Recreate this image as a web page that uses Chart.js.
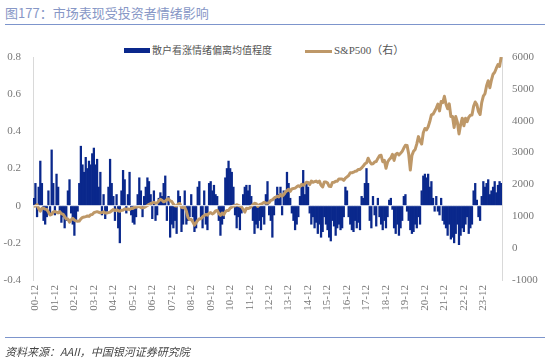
<!DOCTYPE html>
<html><head><meta charset="utf-8">
<script src="https://cdn.jsdelivr.net/npm/chart.js@4"></script>
<style>
html,body{margin:0;padding:0;background:#fff;}
#wrap{position:relative;width:550px;height:360px;overflow:hidden;font-family:"Noto Sans CJK SC","Noto Sans",sans-serif;}
#title{position:absolute;left:5px;top:3px;font-size:13px;color:#8797c6;white-space:nowrap;}
#tline{position:absolute;left:5px;top:24px;width:540px;height:0;border-top:1.5px solid #7d95cc;}
#bline{position:absolute;left:5px;top:337px;width:540px;height:0;border-top:1.5px solid #7d95cc;}
#src{position:absolute;left:5px;top:343px;font-size:11px;color:#444;font-style:italic;white-space:nowrap;}
.lg{position:absolute;font-size:10px;color:#555;white-space:nowrap;line-height:12px;}
.sw{position:absolute;}
canvas{position:absolute;left:0;top:0;}
</style></head>
<body><div id="wrap">
<div id="title">图177：市场表现受投资者情绪影响</div>
<div id="tline"></div>
<div class="sw" style="left:124px;top:48px;width:26px;height:5px;background:#0a288c;"></div>
<div class="lg" style="left:152px;top:44px;">散户看涨情绪偏离均值程度</div>
<div class="sw" style="left:305px;top:50px;width:27px;height:3px;background:#be9868;"></div>
<div class="lg" style="left:334px;top:44px;font-family:'Liberation Serif','Noto Sans CJK SC',serif;font-size:11px;">S&amp;P500（右）</div>
<canvas id="c" width="550" height="360"></canvas>
<div id="bline"></div>
<div id="src">资料来源：AAII，中国银河证券研究院</div>
</div>
<script>
// Tick labels shown on the x axis
const tickLabels = ['00-12','01-12','02-12','03-12','04-12','05-12','06-12','07-12','08-12','09-12','10-12','11-12','12-12','13-12','14-12','15-12','16-12','17-12','18-12','19-12','20-12','21-12','22-12','23-12'];

// Sentiment deviation from mean (monthly)
const s2000 = [0.04, 0.12];
const s2001 = [-0.06, 0.10, 0.24, 0.12, -0.08, -0.10, -0.06, 0.08, -0.05, 0.30, 0.12, -0.05];
const s2002 = [0.17, 0.10, -0.04, -0.09, -0.06, -0.12, -0.08, 0.08, 0.14, -0.04, -0.10, -0.16];
const s2003 = [-0.08, -0.03, 0.12, 0.32, 0.22, 0.18, 0.26, 0.20, 0.24, 0.22, 0.28, 0.31];
const s2004 = [0.22, 0.25, 0.10, 0.18, -0.05, 0.06, -0.07, -0.03, 0.10, 0.25, 0.12, 0.05];
const s2005 = [-0.08, 0.06, -0.12, -0.20, 0.08, 0.19, 0.14, -0.04, 0.06, 0.18, -0.05, -0.09];
const s2006 = [-0.10, -0.06, 0.06, 0.15, 0.08, -0.06, 0.05, 0.10, 0.15, 0.13, 0.06, -0.07];
const s2007 = [0.08, -0.08, -0.05, 0.04, 0.07, 0.05, 0.12, 0.16, -0.08, 0.05, -0.17, -0.10];
const s2008 = [-0.12, -0.08, -0.15, 0.08, 0.05, -0.14, -0.10, 0.08, -0.10, -0.08, -0.06, 0.06];
const s2009 = [-0.06, -0.14, -0.12, 0.10, 0.13, -0.06, -0.12, 0.08, -0.10, -0.13, 0.12, 0.13];
const s2010 = [0.08, 0.11, 0.06, 0.05, -0.08, -0.16, -0.10, -0.07, 0.15, 0.20, 0.24, 0.20];
const s2011 = [0.18, 0.10, -0.05, -0.12, -0.06, -0.13, -0.04, 0.06, 0.10, 0.11, 0.08, 0.11];
const s2012 = [0.05, -0.08, -0.15, -0.10, -0.12, -0.08, -0.13, -0.06, -0.10, 0.06, 0.13, -0.05];
const s2013 = [-0.08, -0.17, -0.05, 0.05, 0.10, 0.06, 0.10, -0.05, 0.08, 0.06, 0.18, 0.12];
const s2014 = [0.04, -0.04, -0.08, -0.13, -0.10, -0.06, 0.05, 0.10, 0.19, 0.06, 0.12, 0.10];
const s2015 = [-0.04, -0.10, -0.06, -0.12, -0.09, -0.15, -0.10, -0.17, -0.14, -0.06, -0.10, -0.13];
const s2016 = [-0.17, -0.19, -0.08, -0.11, -0.16, -0.12, -0.10, -0.13, -0.12, -0.06, 0.10, 0.08];
const s2017 = [-0.06, -0.10, -0.13, -0.14, -0.08, -0.12, -0.09, -0.13, 0.05, 0.04, 0.12, 0.20];
const s2018 = [0.12, -0.08, -0.12, 0.05, -0.05, -0.11, 0.04, -0.06, -0.10, -0.13, -0.08, -0.12];
const s2019 = [-0.06, 0.03, 0.04, -0.02, -0.12, -0.15, -0.10, -0.16, -0.12, -0.08, 0.05, 0.06];
const s2020 = [-0.03, -0.08, -0.13, -0.15, -0.14, -0.10, -0.12, -0.06, -0.10, 0.08, 0.16, 0.17];
const s2021 = [0.15, 0.17, 0.10, 0.13, 0.04, -0.03, 0.05, -0.03, -0.05, 0.04, -0.08, -0.10];
const s2022 = [-0.12, -0.16, -0.10, -0.18, -0.17, -0.20, -0.15, -0.10, -0.21, -0.16, -0.12, -0.14];
const s2023 = [-0.10, -0.06, -0.15, -0.12, -0.10, 0.08, 0.12, 0.03, -0.06, -0.08, 0.05, 0.13];
const s2024 = [0.10, 0.12, 0.14, 0.06, 0.08, 0.10, 0.13, 0.07, 0.11, 0.13, 0.12];

// S&P 500 (monthly)
const sp2000 = [1315, 1320];
const sp2001 = [1366, 1240, 1160, 1249, 1256, 1224, 1211, 1134, 1041, 1060, 1139, 1148];
const sp2002 = [1130, 1107, 1147, 1077, 1067, 990, 912, 916, 815, 886, 936, 880];
const sp2003 = [856, 841, 848, 917, 964, 975, 990, 1008, 996, 1051, 1058, 1112];
const sp2004 = [1131, 1145, 1126, 1107, 1121, 1141, 1102, 1104, 1115, 1130, 1174, 1212];
const sp2005 = [1181, 1204, 1181, 1157, 1192, 1191, 1234, 1220, 1229, 1207, 1249, 1248];
const sp2006 = [1280, 1281, 1295, 1311, 1270, 1270, 1277, 1304, 1336, 1378, 1401, 1418];
const sp2007 = [1438, 1407, 1421, 1482, 1531, 1503, 1455, 1474, 1527, 1549, 1481, 1468];
const sp2008 = [1379, 1331, 1323, 1386, 1400, 1280, 1267, 1283, 1165, 969, 896, 903];
const sp2009 = [826, 720, 798, 873, 919, 919, 987, 1021, 1057, 1036, 1096, 1115];
const sp2010 = [1074, 1104, 1169, 1187, 1089, 1031, 1102, 1049, 1141, 1183, 1181, 1258];
const sp2011 = [1286, 1327, 1326, 1364, 1345, 1321, 1292, 1219, 1131, 1253, 1247, 1258];
const sp2012 = [1312, 1366, 1408, 1398, 1310, 1362, 1379, 1407, 1441, 1412, 1416, 1426];
const sp2013 = [1498, 1515, 1569, 1598, 1631, 1606, 1686, 1633, 1682, 1757, 1806, 1848];
const sp2014 = [1783, 1859, 1872, 1884, 1924, 1960, 1931, 2003, 1972, 2018, 2068, 2059];
const sp2015 = [1995, 2105, 2068, 2086, 2107, 2063, 2104, 1972, 1920, 2079, 2080, 2044];
const sp2016 = [1940, 1932, 2060, 2065, 2097, 2099, 2174, 2171, 2168, 2126, 2199, 2239];
const sp2017 = [2279, 2364, 2363, 2384, 2412, 2423, 2470, 2472, 2519, 2575, 2648, 2674];
const sp2018 = [2824, 2714, 2641, 2648, 2705, 2718, 2816, 2902, 2914, 2712, 2760, 2507];
const sp2019 = [2704, 2784, 2834, 2946, 2752, 2942, 2980, 2926, 2977, 3038, 3141, 3231];
const sp2020 = [3226, 2954, 2450, 2912, 3044, 3100, 3271, 3500, 3363, 3270, 3622, 3756];
const sp2021 = [3714, 3811, 3973, 4181, 4204, 4298, 4395, 4523, 4308, 4605, 4567, 4766];
const sp2022 = [4516, 4374, 4530, 4132, 4132, 3785, 4130, 3955, 3586, 3872, 4080, 3840];
const sp2023 = [4077, 3970, 4109, 4169, 4180, 4450, 4589, 4508, 4288, 4194, 4568, 4770];
const sp2024 = [4846, 5096, 5254, 5036, 5278, 5460, 5522, 5648, 5762, 5705, 6000];

const sentiment = [].concat(s2000,s2001,s2002,s2003,s2004,s2005,s2006,s2007,s2008,s2009,s2010,s2011,s2012,s2013,s2014,s2015,s2016,s2017,s2018,s2019,s2020,s2021,s2022,s2023,s2024);
const sp500 = [].concat(sp2000,sp2001,sp2002,sp2003,sp2004,sp2005,sp2006,sp2007,sp2008,sp2009,sp2010,sp2011,sp2012,sp2013,sp2014,sp2015,sp2016,sp2017,sp2018,sp2019,sp2020,sp2021,sp2022,sp2023,sp2024);

// Month categories "YY-MM" from 2000-11
const categories = [];
for (let i = 0; i < sentiment.length; i++) {
  const t = 2000 * 12 + 10 + i;
  const y = Math.floor(t / 12) % 100, m = t % 12 + 1;
  categories.push(String(y).padStart(2,'0') + '-' + String(m).padStart(2,'0'));
}

const zeroLine = {
  id: 'zeroLine',
  afterDatasetsDraw(chart) {
    const y = chart.scales.y.getPixelForValue(0);
    const a = chart.chartArea, ctx = chart.ctx;
    ctx.save();
    ctx.strokeStyle = 'rgba(255,255,255,0.9)';
    ctx.lineWidth = 1;
    ctx.beginPath(); ctx.moveTo(a.left, y); ctx.lineTo(a.right, y); ctx.stroke();
    ctx.restore();
  }
};
const lineOnTop = {
  id: 'lineOnTop',
  afterDatasetsDraw(chart) {
    const meta = chart.getDatasetMeta(1);
    const ctx = chart.ctx;
    ctx.save();
    meta.dataset.draw(ctx, chart.chartArea);
    ctx.restore();
  }
};

const tickFont = {family: "'Liberation Serif', 'Times New Roman', serif", size: 11};
new Chart(document.getElementById('c'), {
  data: {
    labels: categories,
    datasets: [
      {type: 'bar', label: '散户看涨情绪偏离均值程度', data: sentiment, yAxisID: 'y',
       backgroundColor: '#0a288c', borderWidth: 0, barPercentage: 1, categoryPercentage: 1, order: 2},
      {type: 'line', label: 'S&P500（右）', data: sp500, yAxisID: 'y1',
       borderColor: '#be9868', borderWidth: 3, pointRadius: 0, tension: 0, fill: false, order: 1,
       borderJoinStyle: 'round'}
    ]
  },
  options: {
    responsive: false, animation: false, devicePixelRatio: 1,
    layout: {padding: {top: 57, left: 0, right: 0, bottom: 0}},
    plugins: {legend: {display: false}, tooltip: {enabled: false}, title: {display: false}},
    scales: {
      x: {
        grid: {display: false, drawTicks: false}, border: {display: false},
        ticks: {autoSkip: false, maxRotation: 90, minRotation: 90, padding: 5, color: '#777', font: tickFont,
          callback: function(v, i) { const c = categories[i]; return tickLabels.includes(c) ? c : ''; }},
        afterFit: s => { s.height = 80; }
      },
      y: {
        position: 'left', min: -0.4, max: 0.8,
        grid: {display: false, drawTicks: false}, border: {display: true, color: '#d9d9d9', width: 1},
        ticks: {stepSize: 0.2, padding: 12, color: '#777', font: tickFont,
          callback: v => String(parseFloat(Number(v).toFixed(1)))},
        afterFit: s => { s.width = 33; }
      },
      y1: {
        position: 'right', min: -1000, max: 6000,
        grid: {display: false, drawTicks: false}, border: {display: true, color: '#d9d9d9', width: 1},
        ticks: {stepSize: 1000, padding: 10, color: '#777', font: tickFont, callback: v => String(v)},
        afterFit: s => { s.width = 48; }
      }
    }
  },
  plugins: [zeroLine]
});
</script>
</body></html>
